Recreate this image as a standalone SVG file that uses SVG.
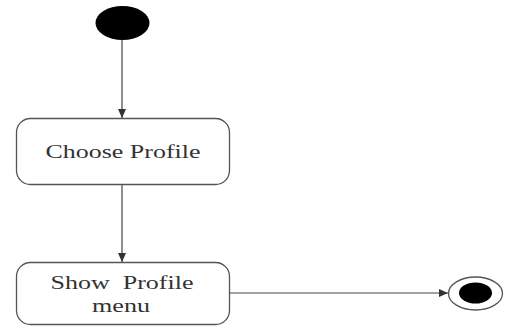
<svg xmlns="http://www.w3.org/2000/svg" width="506" height="326" viewBox="0 0 506 326">
<style>
.box{fill:#fff;stroke:#555;stroke-width:1.3}
.lbl{font-family:"Liberation Serif",serif;font-size:18px;fill:#333;text-anchor:middle}
.conn{stroke:#444;stroke-width:1.2;fill:none}
</style>
<defs>
<marker id="ah" markerWidth="10" markerHeight="8" refX="9" refY="4" orient="auto" markerUnits="userSpaceOnUse">
<path d="M0,0 L9,4 L0,8 Z" fill="#333"/>
</marker>
</defs>
<rect width="506" height="326" fill="#fff"/>
<g id="connectors">
<line class="conn" x1="122" y1="40" x2="122" y2="118" marker-end="url(#ah)"/>
<line class="conn" x1="122" y1="184" x2="122" y2="262" marker-end="url(#ah)"/>
<line class="conn" x1="230" y1="293" x2="448" y2="293" marker-end="url(#ah)"/>
</g>
<g id="start">
<ellipse cx="122.5" cy="23" rx="27" ry="17" fill="#000"/>
</g>
<g id="choose">
<rect class="box" x="16.5" y="118.5" width="213" height="66" rx="14"/>
<text class="lbl" x="123" y="158" textLength="155" lengthAdjust="spacingAndGlyphs">Choose Profile</text>
</g>
<g id="show">
<rect class="box" x="16.5" y="262.5" width="213" height="62" rx="14"/>
<text class="lbl" x="122" y="289" xml:space="preserve" textLength="143" lengthAdjust="spacingAndGlyphs">Show  Profile</text>
<text class="lbl" x="121" y="312" textLength="58" lengthAdjust="spacingAndGlyphs">menu</text>
</g>
<g id="end">
<ellipse cx="475.5" cy="293.5" rx="27" ry="16.5" fill="#fff" stroke="#555" stroke-width="1.3"/>
<ellipse cx="475.5" cy="293" rx="16.5" ry="10.5" fill="#000"/>
</g>
</svg>
